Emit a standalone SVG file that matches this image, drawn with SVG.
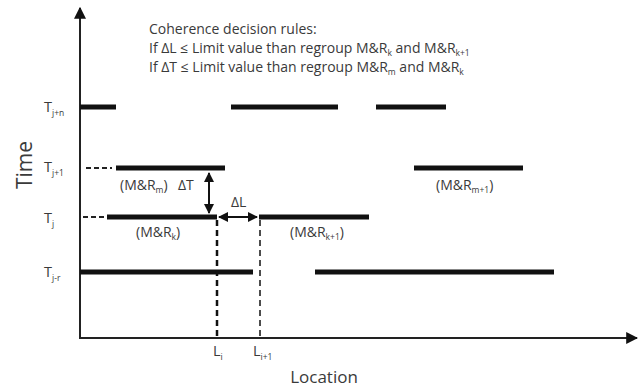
<svg xmlns="http://www.w3.org/2000/svg" width="644" height="387" viewBox="0 0 644 387">
<style>
text{font-family:"Open Sans","Noto Sans","Liberation Sans",sans-serif;fill:#3a3a3a}
.bar{stroke:#111;stroke-width:5;fill:none}
.ax{stroke:#222;stroke-width:2;fill:none}
.lead{stroke:#222;stroke-width:2;stroke-dasharray:5 3;fill:none}
.arr{stroke:#111;stroke-width:2;fill:none}
.lbl{font-size:14px}
.t{font-size:14.5px}
.s{font-size:8.5px}
</style>
<defs>
<marker id="ah" viewBox="0 0 10 10" refX="9" refY="5" markerWidth="10" markerHeight="10" markerUnits="userSpaceOnUse" orient="auto-start-reverse">
<path d="M0,0 L10,5 L0,10 z" fill="#111"/>
</marker>
<marker id="axh" viewBox="0 0 10 10" refX="9" refY="5" markerWidth="12" markerHeight="12" markerUnits="userSpaceOnUse" orient="auto">
<path d="M0,0 L10,5 L0,10 z" fill="#111"/>
</marker>
</defs>
<g id="axes">
<line class="ax" x1="80" y1="339" x2="80" y2="8" marker-end="url(#axh)"/>
<line class="ax" x1="79" y1="338" x2="637" y2="338" marker-end="url(#axh)"/>
<text x="0" y="0" transform="translate(32,165) rotate(-90)" text-anchor="middle" style="font-size:21px">Time</text>
<text x="324" y="383" text-anchor="middle" style="font-size:17px">Location</text>
</g>
<g id="rules">
<text class="lbl" x="149" y="34">Coherence decision rules:</text>
<text class="lbl" x="149" y="53">If ΔL ≤ Limit value than regroup M&amp;R<tspan class="s" dy="3">k</tspan><tspan dy="-3"> and M&amp;R</tspan><tspan class="s" dy="3">k+1</tspan></text>
<text class="lbl" x="149" y="72">If ΔT ≤ Limit value than regroup M&amp;R<tspan class="s" dy="3">m</tspan><tspan dy="-3"> and M&amp;R</tspan><tspan class="s" dy="3">k</tspan></text>
</g>
<g id="time-labels">
<text class="t" x="44" y="112">T<tspan class="s" dy="4">j+n</tspan></text>
<text class="t" x="44" y="172">T<tspan class="s" dy="4">j+1</tspan></text>
<text class="t" x="44" y="223">T<tspan class="s" dy="4">j</tspan></text>
<text class="t" x="44" y="277">T<tspan class="s" dy="4">j-r</tspan></text>
</g>
<g id="row-jn">
<line class="bar" x1="80" y1="107" x2="116" y2="107"/>
<line class="bar" x1="231" y1="107" x2="338" y2="107"/>
<line class="bar" x1="376" y1="107" x2="446" y2="107"/>
</g>
<g id="mr-m">
<line class="lead" x1="86" y1="168" x2="112" y2="168"/>
<line class="bar" x1="116" y1="168" x2="225" y2="168"/>
<text class="lbl" x="120" y="190">(M&amp;R<tspan class="s" dy="3">m</tspan><tspan dy="-3">)</tspan></text>
</g>
<g id="mr-m1">
<line class="bar" x1="414" y1="168" x2="523" y2="168"/>
<text class="lbl" x="436" y="190">(M&amp;R<tspan class="s" dy="3">m+1</tspan><tspan dy="-3">)</tspan></text>
</g>
<g id="mr-k">
<line class="lead" x1="83" y1="217" x2="106" y2="217"/>
<line class="bar" x1="107" y1="217" x2="217" y2="217"/>
<text class="lbl" x="136" y="237">(M&amp;R<tspan class="s" dy="3">k</tspan><tspan dy="-3">)</tspan></text>
</g>
<g id="mr-k1">
<line class="bar" x1="259" y1="217" x2="369" y2="217"/>
<text class="lbl" x="290" y="237">(M&amp;R<tspan class="s" dy="3">k+1</tspan><tspan dy="-3">)</tspan></text>
</g>
<g id="row-jr">
<line class="bar" x1="80" y1="272" x2="253" y2="272"/>
<line class="bar" x1="315" y1="272" x2="554" y2="272"/>
</g>
<g id="connectors">
<line class="arr" x1="209" y1="173" x2="209" y2="213" marker-start="url(#ah)" marker-end="url(#ah)"/>
<line class="arr" x1="219" y1="217" x2="257" y2="217" marker-start="url(#ah)" marker-end="url(#ah)"/>
<line x1="217" y1="220" x2="217" y2="338" stroke="#111" stroke-width="2.5" stroke-dasharray="6 4"/>
<line x1="260" y1="220" x2="260" y2="338" stroke="#111" stroke-width="1.5" stroke-dasharray="6 4"/>
</g>
<g id="delta-labels">
<text class="lbl" x="178" y="190">ΔT</text>
<text class="lbl" x="231" y="207">ΔL</text>
</g>
<g id="loc-labels">
<text class="t" x="213" y="356">L<tspan class="s" dy="4">i</tspan></text>
<text class="t" x="253" y="356">L<tspan class="s" dy="4">i+1</tspan></text>
</g>
</svg>
